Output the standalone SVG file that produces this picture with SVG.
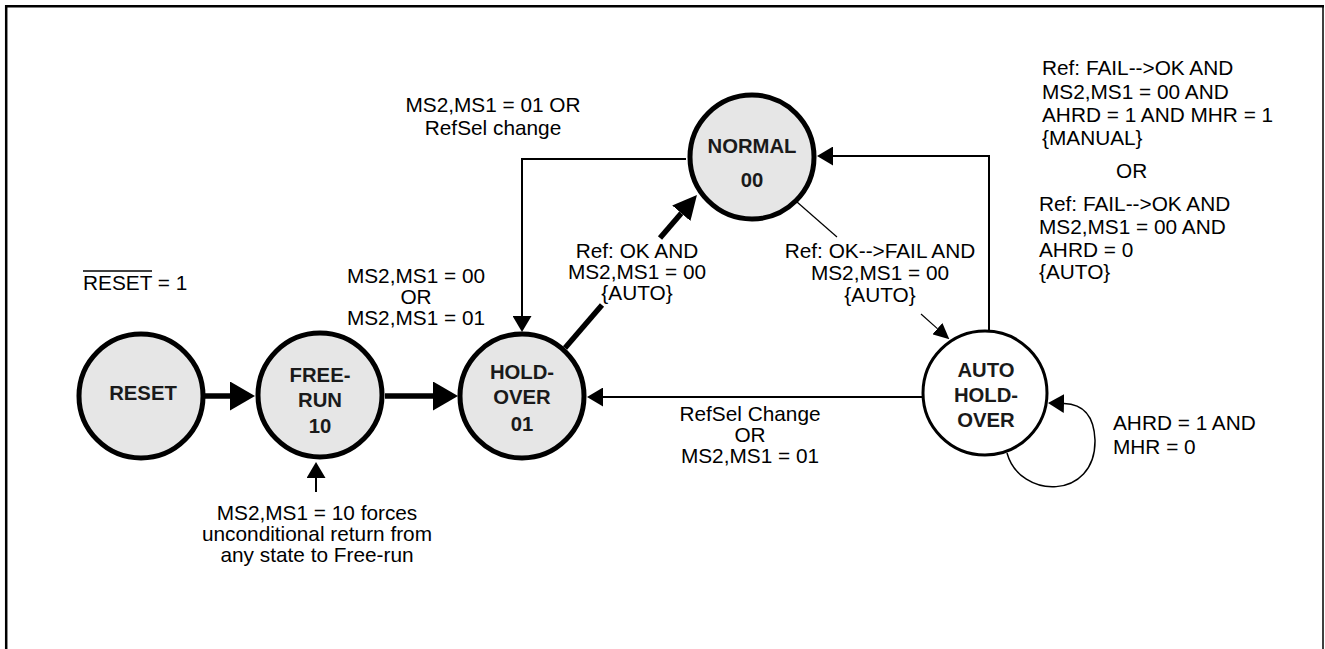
<svg xmlns="http://www.w3.org/2000/svg" width="1325" height="649" viewBox="0 0 1325 649">
<style>
.lbl{font-family:"Liberation Sans",Arial,sans-serif;font-size:20.8px;fill:#000}
.mid{text-anchor:middle}
.nt{font-family:"Liberation Sans",Arial,sans-serif;font-size:20.3px;font-weight:bold;fill:#1a1a1a;text-anchor:middle}
.st{fill:#e6e6e6;stroke:#000;stroke-width:5}
.sw{fill:#fff;stroke:#000;stroke-width:3}
.thick{fill:none;stroke:#000;stroke-width:5.5}
.med{fill:none;stroke:#000;stroke-width:2}
.thin{fill:none;stroke:#000;stroke-width:1.2}
</style>
<defs>
<marker id="aBig" markerUnits="userSpaceOnUse" markerWidth="25" markerHeight="29" refX="0" refY="14.5" orient="auto"><path d="M0,0 L25,14.5 L0,29 z" fill="#000"/></marker>
<marker id="aDiag" markerUnits="userSpaceOnUse" markerWidth="24" markerHeight="24" refX="0" refY="12" orient="auto"><path d="M0,0 L24,12 L0,24 z" fill="#000"/></marker>
<marker id="aMed" markerUnits="userSpaceOnUse" markerWidth="16" markerHeight="19" refX="0" refY="9.5" orient="auto"><path d="M0,0 L16,9.5 L0,19 z" fill="#000"/></marker>
<marker id="aThin" markerUnits="userSpaceOnUse" markerWidth="16" markerHeight="15" refX="0" refY="7.5" orient="auto"><path d="M0,0 L16,7.5 L0,15 z" fill="#000"/></marker>
</defs>
<rect width="1325" height="649" fill="#fff"/>
<g id="frame">
<line x1="5" y1="6.2" x2="1324" y2="6.2" stroke="#000" stroke-width="2.5"/>
<line x1="6.2" y1="5" x2="6.2" y2="649" stroke="#000" stroke-width="2.5"/>
<line x1="1323" y1="5" x2="1323" y2="649" stroke="#000" stroke-width="1.5"/>
</g>
<g id="connectors">
<line class="thick" x1="204" y1="396" x2="230" y2="396" marker-end="url(#aBig)"/>
<line class="thick" x1="385" y1="396" x2="433" y2="396" marker-end="url(#aBig)"/>
<line class="thick" x1="565" y1="348" x2="602" y2="305"/>
<line class="thick" x1="660" y1="238" x2="681.3" y2="213.2" marker-end="url(#aDiag)"/>
<path class="med" d="M686,159 H522 V316" marker-end="url(#aMed)"/>
<path class="med" d="M989,331 V156 H833" marker-end="url(#aMed)"/>
<path class="med" d="M922,397 H603" marker-end="url(#aMed)"/>
<line class="thin" x1="797" y1="202" x2="837" y2="237"/>
<line class="thin" x1="921" y1="314" x2="937.4" y2="328.6" marker-end="url(#aThin)"/>
<path class="med" style="stroke-width:1.5" d="M1007,453 C1020,500 1096,500 1095,440 C1094,415 1082,404 1064,403.5" marker-end="url(#aMed)"/>
<line class="med" x1="316" y1="492" x2="316" y2="478" marker-end="url(#aMed)"/>
</g>
<g id="reset">
<circle class="st" cx="141" cy="396" r="62"/>
<text class="nt" x="143" y="400">RESET</text>
</g>
<g id="freerun">
<circle class="st" cx="320" cy="395" r="62"/>
<text class="nt" x="320" y="382">FREE-</text>
<text class="nt" x="320" y="407">RUN</text>
<text class="nt" x="320" y="433">10</text>
</g>
<g id="holdover">
<circle class="st" cx="522" cy="396" r="62"/>
<text class="nt" x="522" y="379">HOLD-</text>
<text class="nt" x="522" y="404">OVER</text>
<text class="nt" x="522" y="431">01</text>
</g>
<g id="normal">
<circle class="st" cx="752" cy="157" r="62"/>
<text class="nt" x="752" y="153">NORMAL</text>
<text class="nt" x="752" y="187">00</text>
</g>
<g id="autoholdover">
<circle class="sw" cx="985" cy="393" r="62"/>
<text class="nt" x="986" y="377">AUTO</text>
<text class="nt" x="986" y="402">HOLD-</text>
<text class="nt" x="986" y="427">OVER</text>
</g>
<g id="labels">
<text class="lbl" x="83" y="290">RESET = 1</text>
<line x1="83" y1="271" x2="152" y2="271" stroke="#000" stroke-width="1.3"/>
<text class="lbl mid" x="416" y="283">MS2,MS1 = 00</text>
<text class="lbl mid" x="416" y="304">OR</text>
<text class="lbl mid" x="416" y="325">MS2,MS1 = 01</text>
<text class="lbl mid" x="493" y="112">MS2,MS1 = 01 OR</text>
<text class="lbl mid" x="493" y="135">RefSel change</text>
<text class="lbl mid" x="637" y="258">Ref: OK AND</text>
<text class="lbl mid" x="637" y="279">MS2,MS1 = 00</text>
<text class="lbl mid" x="637" y="300">{AUTO}</text>
<text class="lbl mid" x="880" y="258">Ref: OK--&gt;FAIL AND</text>
<text class="lbl mid" x="880" y="280">MS2,MS1 = 00</text>
<text class="lbl mid" x="880" y="302">{AUTO}</text>
<text class="lbl mid" x="750" y="421">RefSel Change</text>
<text class="lbl mid" x="750" y="442">OR</text>
<text class="lbl mid" x="750" y="463">MS2,MS1 = 01</text>
<text class="lbl" x="1113" y="430">AHRD = 1 AND</text>
<text class="lbl" x="1113" y="454">MHR = 0</text>
<text class="lbl mid" x="317" y="520">MS2,MS1 = 10 forces</text>
<text class="lbl mid" x="317" y="541">unconditional return from</text>
<text class="lbl mid" x="317" y="562">any state to Free-run</text>
<text class="lbl" x="1042" y="75">Ref: FAIL--&gt;OK AND</text>
<text class="lbl" x="1042" y="99">MS2,MS1 = 00 AND</text>
<text class="lbl" x="1042" y="122">AHRD = 1 AND MHR = 1</text>
<text class="lbl" x="1042" y="145">{MANUAL}</text>
<text class="lbl" x="1116" y="178">OR</text>
<text class="lbl" x="1039" y="211">Ref: FAIL--&gt;OK AND</text>
<text class="lbl" x="1039" y="234">MS2,MS1 = 00 AND</text>
<text class="lbl" x="1039" y="257">AHRD = 0</text>
<text class="lbl" x="1039" y="279">{AUTO}</text>
</g>
</svg>
